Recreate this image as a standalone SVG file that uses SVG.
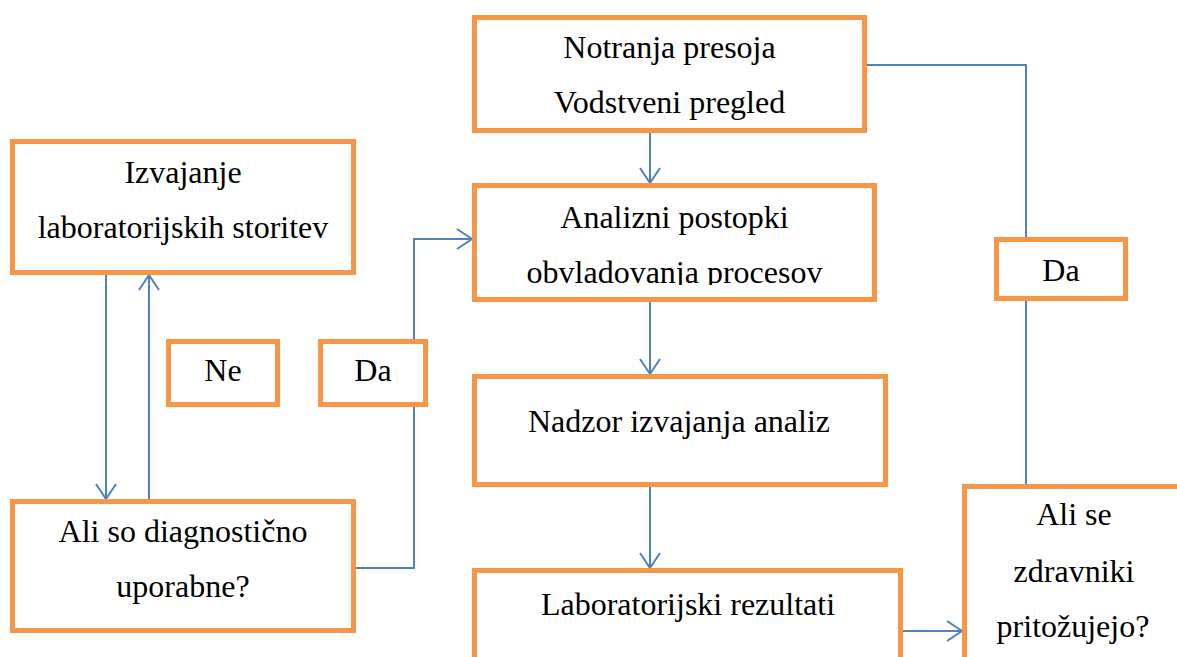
<svg xmlns="http://www.w3.org/2000/svg" width="1177" height="657" viewBox="0 0 1177 657">
<style>
.box{fill:#fff;stroke:#F79646;stroke-width:5}
.t{font-family:"Liberation Serif","Times New Roman",serif;font-size:32px;fill:#000;text-anchor:middle}
.c{fill:none;stroke:#4F81BD;stroke-width:2}
</style>
<defs>
<marker id="ah" markerUnits="userSpaceOnUse" markerWidth="20" markerHeight="24" refX="16" refY="11" orient="auto" viewBox="0 0 20 24">
<path d="M1,1 L16,11 L1,21" fill="none" stroke="#4F81BD" stroke-width="2"/>
</marker>
<clipPath id="clip2"><rect x="476" y="187" width="397" height="98"/></clipPath>
</defs>
<rect width="1177" height="657" fill="#fff"/>
<g id="connectors">
<path class="c" d="M650,133 V183" marker-end="url(#ah)"/>
<path class="c" d="M650,302 V374" marker-end="url(#ah)"/>
<path class="c" d="M650,487 V568" marker-end="url(#ah)"/>
<path class="c" d="M106,275 V499" marker-end="url(#ah)"/>
<path class="c" d="M149,499 V275" marker-end="url(#ah)"/>
<path class="c" d="M356,568 H414 V239 H472" marker-end="url(#ah)"/>
<path class="c" d="M903,631 H962" marker-end="url(#ah)"/>
<path class="c" d="M1026,484 V65 H867"/>
</g>
<g id="n1"><rect class="box" x="474.5" y="17.5" width="390" height="113"/>
<text class="t" x="669.5" y="58">Notranja presoja</text><text class="t" x="669.5" y="113">Vodstveni pregled</text></g>
<g id="n2"><rect class="box" x="474.5" y="185.5" width="400" height="114"/>
<g clip-path="url(#clip2)"><text class="t" x="674.5" y="228">Analizni postopki</text><text class="t" x="674.5" y="283">obvladovanja procesov</text></g></g>
<g id="n3"><rect class="box" x="12.5" y="141.5" width="341" height="131"/>
<text class="t" x="183" y="183">Izvajanje</text><text class="t" x="183" y="238">laboratorijskih storitev</text></g>
<g id="n4"><rect class="box" x="168.5" y="341.5" width="109" height="63"/><text class="t" x="223" y="381">Ne</text></g>
<g id="n5"><rect class="box" x="320.5" y="341.5" width="105" height="63"/><text class="t" x="373" y="381">Da</text></g>
<g id="n6"><rect class="box" x="12.5" y="501.5" width="341" height="129"/>
<text class="t" x="183" y="542">Ali so diagnostično</text><text class="t" x="183" y="597">uporabne?</text></g>
<g id="n7"><rect class="box" x="474.5" y="376.5" width="411" height="108"/><text class="t" x="679" y="432">Nadzor izvajanja analiz</text></g>
<g id="n8"><rect class="box" x="474.5" y="570.5" width="426" height="120"/><text class="t" x="688" y="615">Laboratorijski rezultati</text></g>
<g id="n9"><rect class="box" x="964.5" y="486.5" width="250" height="200"/>
<text class="t" x="1074" y="525">Ali se</text><text class="t" x="1074" y="582">zdravniki</text><text class="t" x="1073" y="637">pritožujejo?</text></g>
<g id="n10"><rect class="box" x="996.5" y="239.5" width="129" height="59"/><text class="t" x="1061" y="281">Da</text></g>
</svg>
